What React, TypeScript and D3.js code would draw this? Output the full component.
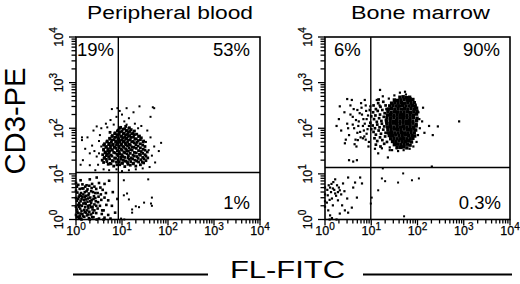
import React from "react";
import * as d3 from "d3";

type P = [number, number]; // [log10 FL-FITC, log10 CD3-PE]

const panelTitles = ["Peripheral blood", "Bone marrow"];
const decadeTicks = [1, 10, 100, 1000, 10000];
const pbQuadrants = ["19%", "53%", "1%"];
const bmQuadrants = ["6%", "90%", "0.3%"];
const pbGates = [0.92, 1.03];
const bmGates = [0.99, 1.14];

const pbUpper: P[] = [
  [0.82,1.17],[0.95,1.2],[1.06,1.16],[1.18,1.19],[1.3,1.17],[0.7,1.21],
  [0.6,1.25],[0.74,1.23],[0.88,1.26],[1.0,1.24],[1.12,1.25],[1.24,1.22],[1.36,1.26],[1.47,1.24],
  [0.57,1.3],[0.66,1.32],[0.79,1.29],[0.92,1.31],[1.03,1.3],[1.09,1.28],[1.16,1.32],[1.28,1.3],[1.41,1.31],[1.52,1.29],
  [0.62,1.36],[0.71,1.38],[0.84,1.35],[0.97,1.37],[1.06,1.36],[1.2,1.35],[1.33,1.38],[1.45,1.36],[1.56,1.35],
  [0.58,1.42],[0.68,1.44],[0.76,1.41],[0.89,1.43],[1.0,1.42],[1.11,1.44],[1.24,1.41],[1.38,1.43],[1.5,1.42],
  [0.64,1.48],[0.73,1.5],[0.82,1.47],[0.94,1.49],[1.04,1.48],[1.14,1.5],[1.27,1.47],[1.42,1.49],[1.55,1.48],
  [0.6,1.54],[0.7,1.55],[0.79,1.53],[0.87,1.56],[0.98,1.54],[1.08,1.55],[1.19,1.53],[1.31,1.56],[1.46,1.54],
  [0.66,1.6],[0.75,1.62],[0.85,1.59],[0.93,1.61],[1.02,1.6],[1.12,1.62],[1.22,1.59],[1.35,1.61],[1.5,1.6],
  [0.62,1.66],[0.72,1.67],[0.81,1.65],[0.9,1.68],[0.99,1.66],[1.07,1.67],[1.16,1.65],[1.27,1.68],[1.4,1.66],
  [0.68,1.72],[0.78,1.74],[0.88,1.71],[0.96,1.73],[1.05,1.72],[1.14,1.74],[1.24,1.71],[1.35,1.73],[1.47,1.72],
  [0.73,1.78],[0.84,1.8],[0.93,1.77],[1.02,1.79],[1.1,1.78],[1.2,1.8],[1.31,1.77],[1.42,1.79],
  [0.79,1.84],[0.9,1.86],[0.99,1.83],[1.08,1.85],[1.17,1.84],[1.27,1.86],[1.38,1.83],
  [0.85,1.9],[0.96,1.92],[1.05,1.89],[1.14,1.91],[1.24,1.9],[0.74,1.91],
  [0.92,1.96],[1.02,1.98],[1.11,1.95],[1.2,1.97],
  [0.97,2.02],[1.08,2.04],[1.16,2.01],
  [0.76,1.22],[0.89,1.2],[1.01,1.23],[1.13,1.21],[1.25,1.23],[1.4,1.2],
  [0.67,1.27],[0.81,1.28],[0.94,1.26],[1.06,1.28],[1.19,1.27],[1.32,1.28],[1.44,1.26],
  [0.61,1.34],[0.73,1.33],[0.86,1.34],[0.98,1.32],[1.13,1.35],[1.23,1.33],[1.35,1.34],[1.48,1.33],
  [0.66,1.4],[0.78,1.39],[0.91,1.4],[1.02,1.38],[1.14,1.4],[1.27,1.39],[1.4,1.41],[1.52,1.39],
  [0.63,1.46],[0.72,1.45],[0.85,1.46],[0.95,1.44],[1.06,1.46],[1.18,1.45],[1.31,1.46],[1.45,1.45],
  [0.6,1.52],[0.69,1.51],[0.78,1.52],[0.9,1.51],[1.0,1.52],[1.1,1.51],[1.22,1.52],[1.36,1.51],[1.5,1.52],
  [0.65,1.58],[0.75,1.57],[0.83,1.58],[0.94,1.57],[1.04,1.58],[1.15,1.57],[1.26,1.58],[1.4,1.57],
  [0.6,1.63],[0.71,1.64],[0.8,1.63],[0.88,1.64],[0.98,1.63],[1.08,1.64],[1.18,1.63],[1.3,1.64],[1.45,1.63],
  [0.67,1.7],[0.77,1.69],[0.86,1.7],[0.95,1.69],[1.03,1.7],[1.12,1.69],[1.21,1.7],[1.33,1.69],[1.46,1.7],
  [0.74,1.76],[0.83,1.75],[0.91,1.76],[1.0,1.75],[1.08,1.76],[1.18,1.75],[1.28,1.76],[1.4,1.75],
  [0.78,1.82],[0.88,1.81],[0.97,1.82],[1.06,1.81],[1.14,1.82],[1.25,1.81],[1.36,1.82],
  [0.84,1.88],[0.94,1.87],[1.03,1.88],[1.12,1.87],[1.21,1.88],[1.32,1.87],
  [0.9,1.94],[1.0,1.93],[1.09,1.94],[1.17,1.93],[1.27,1.94],
  [0.95,2.0],[1.06,1.99],[1.15,2.0],
];

const pbHalo: P[] = [
  [0.4,1.5],[0.35,1.62],[0.45,1.38],[0.5,1.72],[0.48,1.2],[0.42,1.08],[0.52,1.85],[0.3,1.45],[0.2,1.55],[0.15,1.3],
  [0.55,2.0],[0.65,2.1],[0.75,2.18],[0.88,2.25],[0.95,2.38],[1.05,2.15],[1.15,2.22],[1.28,2.1],[1.25,2.35],[1.42,2.05],
  [1.55,1.95],[1.62,1.8],[1.7,1.6],[1.65,1.4],[1.72,1.25],[1.6,1.15],[1.8,1.5],[1.85,1.68],[1.62,2.25],[0.78,2.42],
  [1.38,2.48],[0.6,1.1],[0.72,1.08],[0.88,1.1],[1.0,1.06],[1.15,1.08],[1.3,1.1],[1.45,1.12],[0.25,1.8],[0.1,1.2],
  [0.38,1.95],[0.68,2.02],[1.35,2.0],[1.52,1.7],[1.58,1.52],[0.55,1.6],[0.5,1.45],[1.0,2.3],[1.1,2.08],[0.82,2.08],
  [0.45,2.04],[0.13,1.8],[1.7,2.44],[1.1,2.44],[0.9,2.44],[1.67,2.46],[0.3,1.19],[0.13,1.74],
];

const pbNeg: P[] = [
  [0.02,0.05],[0.1,0.02],[0.18,0.06],[0.28,0.03],[0.38,0.05],[0.5,0.02],[0.62,0.04],[0.05,0.14],[0.14,0.12],[0.22,0.15],
  [0.33,0.11],[0.44,0.14],[0.56,0.12],[0.7,0.1],[0.02,0.22],[0.09,0.24],[0.18,0.21],[0.27,0.25],[0.36,0.22],[0.47,0.24],
  [0.6,0.2],[0.04,0.32],[0.13,0.3],[0.21,0.34],[0.3,0.31],[0.4,0.33],[0.52,0.3],[0.66,0.32],[0.02,0.41],[0.1,0.4],
  [0.17,0.43],[0.25,0.39],[0.34,0.42],[0.43,0.4],[0.55,0.43],[0.06,0.5],[0.14,0.49],[0.22,0.52],[0.31,0.48],[0.39,0.51],
  [0.49,0.5],[0.62,0.48],[0.03,0.59],[0.11,0.58],[0.19,0.6],[0.28,0.57],[0.37,0.6],[0.47,0.58],[0.08,0.67],[0.16,0.68],
  [0.25,0.66],[0.34,0.69],[0.44,0.67],[0.58,0.65],[0.05,0.76],[0.14,0.77],[0.23,0.75],[0.35,0.78],[0.5,0.8],[0.1,0.86],
  [0.3,0.88],[0.45,0.92],[0.72,0.85],[0.8,0.6],[0.78,0.3],[0.85,0.15],[0.9,0.45],[0.0,0.1],[0.0,0.28],[0.0,0.47],
  [0.0,0.63],[0.0,0.8],[0.12,0.0],[0.3,0.0],[0.45,0.0],[0.6,0.0],[0.75,0.02],[0.07,0.36],[0.2,0.27],[0.26,0.46],
  [0.16,0.55],[0.4,0.2],[0.33,0.36],[0.08,0.08],[0.24,0.09],[0.12,0.19],[0.29,0.17],[0.06,0.28],[0.19,0.37],[0.36,0.28],
  [0.12,0.45],[0.27,0.53],[0.42,0.47],[0.08,0.54],[0.2,0.72],[0.53,0.7],[0.65,0.58],[0.7,0.42],[0.62,0.78],[0.4,0.72],
  [0.03,0.17],[0.09,0.31],[0.15,0.07],[0.21,0.44],[0.27,0.11],[0.33,0.27],[0.05,0.45],[0.11,0.52],[0.19,0.16],[0.23,0.62],
  [0.31,0.4],[0.37,0.15],[0.44,0.3],[0.02,0.72],[0.13,0.68],[0.29,0.74],[0.38,0.45],[0.48,0.38],[0.54,0.55],[0.07,0.03],
  [0.16,0.35],[0.24,0.2],[0.35,0.05],[0.42,0.58],[0.57,0.2],[0.1,0.13],[0.26,0.3],[0.19,0.5],[0.04,0.06],[0.33,0.62],
];

const pbScatter: P[] = [
  [1.04,0.53],[1.11,0.57],[1.3,0.29],[1.22,0.22],[1.48,0.37],[1.63,0.35],[1.65,0.48],[1.04,0.86],[1.15,0.44],[1.37,0.27],
  [1.57,0.88],[1.65,0.3],[1.22,0.15],[0.98,0.02],[1.05,0.0],
];

const bmCore: P[] = [
  [1.62,2.68],[1.69,2.69],[1.76,2.67],[1.83,2.68],
  [1.5,2.62],[1.57,2.61],[1.64,2.62],[1.71,2.63],[1.78,2.62],[1.85,2.61],[1.9,2.63],
  [1.44,2.55],[1.51,2.56],[1.58,2.55],[1.65,2.56],[1.72,2.55],[1.79,2.56],[1.86,2.55],[1.93,2.56],
  [1.4,2.49],[1.47,2.5],[1.54,2.49],[1.61,2.49],[1.68,2.5],[1.75,2.49],[1.82,2.49],[1.89,2.5],[1.95,2.48],
  [1.37,2.42],[1.44,2.43],[1.51,2.42],[1.58,2.43],[1.65,2.42],[1.72,2.43],[1.79,2.42],[1.86,2.43],[1.93,2.42],[1.98,2.44],
  [1.36,2.36],[1.43,2.35],[1.5,2.36],[1.57,2.36],[1.64,2.35],[1.71,2.36],[1.78,2.36],[1.85,2.35],[1.92,2.36],[1.99,2.37],
  [1.35,2.29],[1.42,2.3],[1.49,2.29],[1.56,2.3],[1.63,2.29],[1.7,2.3],[1.77,2.29],[1.84,2.3],[1.91,2.29],[1.98,2.31],
  [1.34,2.23],[1.42,2.23],[1.49,2.24],[1.56,2.23],[1.63,2.23],[1.7,2.24],[1.77,2.23],[1.84,2.23],[1.91,2.24],[1.99,2.22],
  [1.33,2.16],[1.41,2.17],[1.48,2.16],[1.55,2.17],[1.62,2.16],[1.69,2.17],[1.76,2.16],[1.83,2.17],[1.9,2.16],[1.98,2.17],
  [1.34,2.1],[1.41,2.1],[1.48,2.11],[1.55,2.1],[1.62,2.1],[1.69,2.11],[1.76,2.1],[1.83,2.1],[1.9,2.11],[1.97,2.09],
  [1.35,2.03],[1.42,2.04],[1.49,2.03],[1.56,2.04],[1.63,2.03],[1.7,2.04],[1.77,2.03],[1.84,2.04],[1.91,2.03],[1.97,2.05],
  [1.36,1.97],[1.43,1.97],[1.5,1.98],[1.57,1.97],[1.64,1.97],[1.71,1.98],[1.78,1.97],[1.85,1.97],[1.92,1.98],[1.96,1.96],
  [1.37,1.9],[1.44,1.91],[1.51,1.9],[1.58,1.9],[1.65,1.91],[1.72,1.9],[1.79,1.9],[1.86,1.91],[1.93,1.9],
  [1.39,1.84],[1.46,1.84],[1.53,1.85],[1.6,1.84],[1.67,1.84],[1.74,1.85],[1.81,1.84],[1.88,1.84],[1.94,1.83],
  [1.42,1.77],[1.49,1.78],[1.56,1.77],[1.63,1.77],[1.7,1.78],[1.77,1.77],[1.84,1.77],[1.9,1.78],
  [1.46,1.71],[1.53,1.71],[1.6,1.72],[1.67,1.71],[1.74,1.71],[1.81,1.72],[1.87,1.7],
  [1.5,1.64],[1.57,1.65],[1.64,1.64],[1.71,1.64],[1.78,1.65],[1.84,1.63],
  [1.56,1.58],[1.63,1.58],[1.7,1.59],[1.77,1.57],
];

const bmMid: P[] = [
  [1.05,2.5],[1.1,2.42],[1.15,2.55],[1.2,2.47],[1.26,2.58],[1.31,2.5],
  [1.04,2.35],[1.09,2.28],[1.14,2.38],[1.19,2.3],[1.24,2.4],[1.29,2.33],[1.33,2.42],
  [1.06,2.2],[1.12,2.14],[1.17,2.22],[1.22,2.16],[1.27,2.25],[1.32,2.18],
  [1.03,2.06],[1.08,2.0],[1.13,2.08],[1.18,2.02],[1.23,2.1],[1.28,2.04],[1.33,2.12],
  [1.05,1.92],[1.1,1.86],[1.16,1.95],[1.21,1.88],[1.26,1.97],[1.31,1.9],
  [1.07,1.78],[1.13,1.72],[1.19,1.8],[1.24,1.74],[1.3,1.82],[1.34,1.7],
  [1.1,1.64],[1.2,1.6],[1.28,1.66],[1.16,2.63],[1.0,2.26],[0.98,2.12],[1.0,1.98],[0.97,2.4],
];

const bmHalo: P[] = [
  [0.3,2.2],[0.35,1.95],[0.42,2.35],[0.48,2.1],[0.52,1.85],[0.55,2.5],[0.6,2.25],[0.63,2.0],[0.66,1.75],[0.7,2.4],
  [0.73,2.15],[0.76,1.92],[0.8,2.3],[0.82,2.05],[0.85,1.82],[0.88,2.5],[0.9,2.2],[0.92,1.98],[0.95,1.7],[0.45,1.75],
  [0.25,2.05],[0.58,2.62],[0.68,1.6],[0.86,2.62],[0.78,2.55],
  [0.55,2.3],[0.62,2.42],[0.67,2.18],[0.72,2.05],[0.75,2.33],[0.79,2.45],[0.83,2.2],[0.86,2.1],[0.89,2.38],[0.93,2.28],
  [0.95,2.05],[0.9,1.88],[0.84,1.95],[0.77,1.8],[0.7,1.9],[0.64,1.65],[0.6,2.08],[0.5,2.0],[0.88,1.75],[0.94,1.6],
  [1.25,2.7],[1.12,2.62],[0.98,2.48],[1.18,2.5],[1.08,1.55],[1.15,1.45],
  [1.5,2.72],[1.62,2.78],[1.75,2.74],[1.85,2.66],[1.96,2.52],[2.02,2.35],[2.04,2.2],[2.05,2.0],[2.01,1.85],[1.98,1.7],
  [1.91,1.6],[1.83,1.55],[1.7,1.52],[1.58,1.5],[1.45,1.52],[1.4,1.58],[2.1,2.15],[2.15,1.9],[2.25,2.05],[2.12,2.45],
  [1.38,2.65],[2.9,2.15],[2.44,2.04],[2.33,1.85],[0.32,2.48],[0.48,2.64],[1.19,2.84],[1.73,2.8],
  [0.43,1.67],[0.71,1.74],[0.82,1.78],[1.23,1.56],[1.4,1.52],[1.36,1.36],[1.66,1.58],[1.55,1.56],[1.8,1.74],
  [0.52,1.3],[0.61,1.27],[0.69,1.3],[2.31,1.16],
];

const bmNeg: P[] = [
  [0.11,0.7],[0.17,0.68],[0.26,0.75],[0.32,0.64],[0.39,0.79],[0.22,0.57],[0.15,0.46],[0.06,0.53],[0.04,0.37],[0.28,0.42],
  [0.48,0.46],[0.61,0.7],[0.65,0.81],[0.5,0.92],[0.76,0.92],[0.8,0.79],[0.58,0.26],[0.43,0.2],[0.37,0.31],[0.32,0.13],
  [0.5,0.15],[0.69,0.48],[0.17,0.31],[0.11,0.09],[0.0,0.55],[0.0,0.4],[0.0,0.7],[0.0,0.28],[0.1,0.0],[0.25,0.0],
  [0.15,0.03],[0.2,0.65],[0.13,0.6],[0.24,0.52],[0.3,0.7],[0.08,0.75],[0.18,0.82],[0.35,0.55],[0.1,0.43],[0.28,0.6],
  [0.05,0.65],[0.14,0.78],[0.22,0.88],[0.07,0.2],[0.42,0.62],
];

const bmScatter: P[] = [
  [1.25,1.12],[1.23,0.9],[1.3,0.84],[1.69,1.01],[1.58,0.81],[1.88,0.86],[2.03,0.9],[1.15,0.64],[1.01,0.48],[1.71,0.07],
  [0.99,0.35],
];

const TOP = 37;
const BOTTOM = 219.5;
const FONT = "'Liberation Sans', Arial, Helvetica, sans-serif";

type Group = { pts: P[]; size: number };

const panels = [
  {
    title: panelTitles[0], titleX: 170, titleLen: 166,
    left: 76, right: 260, gates: pbGates, quads: pbQuadrants,
    tlX: 77, trX: 250, brX: 250,
    groups: [
      { pts: pbNeg, size: 2.6 }, { pts: pbScatter, size: 2 },
      { pts: pbHalo, size: 2 }, { pts: pbUpper, size: 2.8 },
    ] as Group[],
  },
  {
    title: panelTitles[1], titleX: 420.5, titleLen: 139,
    left: 325, right: 510, gates: bmGates, quads: bmQuadrants,
    tlX: 334, trX: 500, brX: 501,
    groups: [
      { pts: bmNeg, size: 2.2 }, { pts: bmScatter, size: 2 },
      { pts: bmHalo, size: 2.2 }, { pts: bmMid, size: 2.7 }, { pts: bmCore, size: 3.4 },
    ] as Group[],
  },
];

function Panel({ p }: { p: (typeof panels)[number] }) {
  const x = d3.scaleLog().domain([1, 10000]).range([p.left, p.right]);
  const y = d3.scaleLog().domain([1, 10000]).range([BOTTOM, TOP]);
  const allTicks = x.ticks();
  const isMajor = (t: number) => decadeTicks.includes(t);
  const gx = x(Math.pow(10, p.gates[0]));
  const gy = y(Math.pow(10, p.gates[1]));
  return (
    <g>
      <text x={p.titleX} y={18.5} fontSize={18.8} textAnchor="middle" textLength={p.titleLen}
        lengthAdjust="spacingAndGlyphs" fontFamily={FONT}>{p.title}</text>
      {p.groups.map((g, gi) => (
        <g key={gi}>
          {g.pts.map(([a, b], i) => (
            <rect key={i} x={x(Math.pow(10, a)) - g.size / 2} y={y(Math.pow(10, b)) - g.size / 2}
              width={g.size} height={g.size} fill="#000" />
          ))}
        </g>
      ))}
      <line x1={gx} x2={gx} y1={TOP} y2={BOTTOM} stroke="#000" strokeWidth={1.4} />
      <line x1={p.left} x2={p.right} y1={gy} y2={gy} stroke="#000" strokeWidth={1.4} />
      <rect x={p.left} y={TOP} width={p.right - p.left} height={BOTTOM - TOP} fill="none" stroke="#000" strokeWidth={1.6} />
      {allTicks.map((t, i) => (
        <g key={"t" + i}>
          <line x1={x(t)} x2={x(t)} y1={BOTTOM} y2={BOTTOM + (isMajor(t) ? 6 : 4)} stroke="#000" strokeWidth={1.3} />
          <line y1={y(t)} y2={y(t)} x1={p.left} x2={p.left - (isMajor(t) ? 7 : 4.5)} stroke="#000" strokeWidth={1.3} />
        </g>
      ))}
      {decadeTicks.map((t, i) => (
        <g key={"l" + i} fontFamily={FONT} stroke="#000" strokeWidth={0.25}>
          <text x={x(t)} y={234.5} fontSize={12.5} textAnchor="middle">
            10<tspan fontSize={10} dy={-5}>{Math.round(Math.log10(t))}</tspan>
          </text>
          <text transform={`translate(${p.left - 13},${y(t)}) rotate(-90)`} fontSize={12.5} textAnchor="middle">
            10<tspan fontSize={10} dy={-6}>{Math.round(Math.log10(t))}</tspan>
          </text>
        </g>
      ))}
      <g fontFamily={FONT} fontSize={18.5}>
        <text x={p.tlX} y={56}>{p.quads[0]}</text>
        <text x={p.trX} y={56} textAnchor="end">{p.quads[1]}</text>
        <text x={p.brX} y={209} textAnchor="end">{p.quads[2]}</text>
      </g>
    </g>
  );
}

export default function App() {
  return (
    <svg width={520} height={284} viewBox="0 0 520 284"
      style={{ position: "absolute", left: 0, top: 0, background: "#fff" }}>
      <rect width={520} height={284} fill="#fff" />
      {panels.map((p, i) => <Panel key={i} p={p} />)}
      <text transform="translate(25,121) rotate(-90)" fontSize={29} textAnchor="middle"
        textLength={107} lengthAdjust="spacingAndGlyphs" fontFamily={FONT}>CD3-PE</text>
      <text x={287.5} y={278} fontSize={23} textAnchor="middle" textLength={115}
        lengthAdjust="spacingAndGlyphs" fontFamily={FONT}>FL-FITC</text>
      <line x1={73} x2={208} y1={274.5} y2={274.5} stroke="#000" strokeWidth={1.8} />
      <line x1={363} x2={512} y1={274.5} y2={274.5} stroke="#000" strokeWidth={1.8} />
    </svg>
  );
}
